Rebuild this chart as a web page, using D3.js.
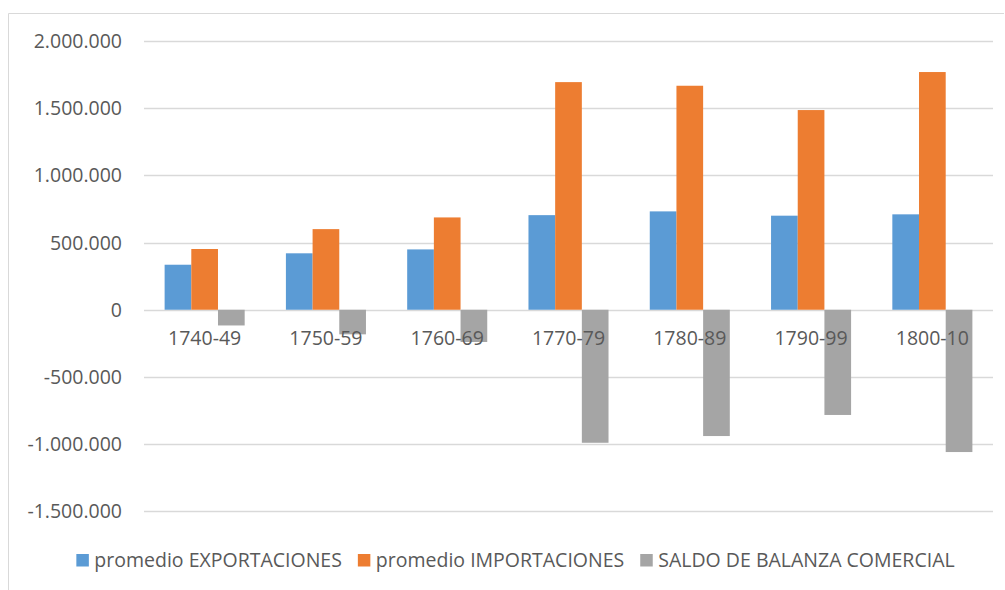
<!DOCTYPE html>
<html>
<head>
<meta charset="utf-8">
<script src="https://cdn.jsdelivr.net/npm/d3@7"></script>
<style>
  body { margin: 0; background: #fff; }
  svg text { font-family: "Open Sans", "Noto Sans", sans-serif; fill: #595959; }
</style>
</head>
<body>
<div class="chart"></div>
<script>
// decenios y series
var periodos = ["1740-49", "1750-59", "1760-69", "1770-79", "1780-89", "1790-99", "1800-10"];
var exportaciones = [335000, 420000, 449000, 704000, 732000, 700000, 710000];
var importaciones = [452000, 600000, 687000, 1694000, 1667000, 1486000, 1769000];
var saldo = [-117000, -183000, -240000, -990000, -940000, -783000, -1059000];
var yTicks = [-1500000, -1000000, -500000, 0, 500000, 1000000, 1500000, 2000000];
var serieNombres = ["promedio EXPORTACIONES", "promedio IMPORTACIONES", "SALDO DE BALANZA COMERCIAL"];
var colores = ["#5B9BD5", "#ED7D31", "#A5A5A5"];

var chart = {
  width: 1005,
  height: 590,
  fontSize: "19.5px",
  plot: { left: 144, right: 993, top: 41, bottom: 511.3 },

  draw: function(){
    var series = [exportaciones, importaciones, saldo];
    var fmt = d3.formatLocale({ decimal: ",", thousands: ".", grouping: [3], currency: ["", ""], minus: "-" }).format(",d");

    var svg = d3.select(".chart").append("svg")
      .attr("width", chart.width)
      .attr("height", chart.height);

    // marco del grafico (solo se ve arriba y a la izquierda)
    svg.append("path")
      .attr("d", "M8.5,590V13.5H1004")
      .attr("fill", "none").attr("stroke", "#d9d9d9");

    var y = d3.scaleLinear()
      .domain([-1500000, 2000000])
      .range([chart.plot.bottom, chart.plot.top]);

    var x0 = d3.scaleBand()
      .domain(periodos)
      .range([chart.plot.left, chart.plot.right])
      .paddingInner(0.34).paddingOuter(0.17);

    var x1 = d3.scaleBand()
      .domain([0, 1, 2])
      .range([0, x0.bandwidth()]);

    // lineas de division
    svg.append("g").selectAll("line")
      .data(yTicks)
      .enter().append("line")
        .attr("x1", chart.plot.left).attr("x2", chart.plot.right)
        .attr("y1", function(d){ return Math.round(y(d)) + 0.5; })
        .attr("y2", function(d){ return Math.round(y(d)) + 0.5; })
        .attr("stroke", "#d9d9d9").attr("stroke-width", 1.3);

    // etiquetas eje y
    svg.append("g").selectAll("text")
      .data(yTicks)
      .enter().append("text")
        .attr("x", 122)
        .attr("y", function(d){ return y(d); })
        .attr("dy", "0.36em")
        .attr("text-anchor", "end")
        .style("font-size", chart.fontSize)
        .text(function(d){ return fmt(d); });

    // barras
    var grupos = svg.append("g").selectAll("g")
      .data(periodos)
      .enter().append("g")
        .attr("transform", function(d){ return "translate(" + x0(d) + ",0)"; });

    grupos.selectAll("rect")
      .data(function(d, i){ return series.map(function(s, k){ return { k: k, v: s[i] }; }); })
      .enter().append("rect")
        .attr("x", function(d){ return x1(d.k); })
        .attr("width", x1.bandwidth())
        .attr("y", function(d){ return y(Math.max(0, d.v)); })
        .attr("height", function(d){ return Math.abs(y(d.v) - y(0)); })
        .attr("fill", function(d){ return colores[d.k]; });

    // etiquetas de categoria (encima de las barras)
    svg.append("g").selectAll("text")
      .data(periodos)
      .enter().append("text")
        .attr("x", function(d){ return x0(d) + x0.bandwidth() / 2; })
        .attr("y", 345)
        .attr("text-anchor", "middle")
        .style("font-size", chart.fontSize)
        .text(function(d){ return d; });

    // leyenda
    var leyenda = svg.append("g");
    var items = leyenda.selectAll("g")
      .data(serieNombres)
      .enter().append("g");
    items.append("rect")
      .attr("y", 554).attr("width", 12.5).attr("height", 12.5)
      .attr("fill", function(d, i){ return colores[i]; });
    items.append("text")
      .attr("x", 18).attr("y", 567)
      .style("font-size", chart.fontSize)
      .text(function(d){ return d; });

    var pos = 0, anchos = [];
    items.each(function(){
      var w = 18 + d3.select(this).select("text").node().getComputedTextLength();
      anchos.push(pos);
      pos += w + 16;
    });
    var total = pos - 16;
    var inicio = (75 + 956) / 2 - total / 2;
    items.attr("transform", function(d, i){ return "translate(" + (inicio + anchos[i]) + ",0)"; });
  }
};

chart.draw();
</script>
</body>
</html>
